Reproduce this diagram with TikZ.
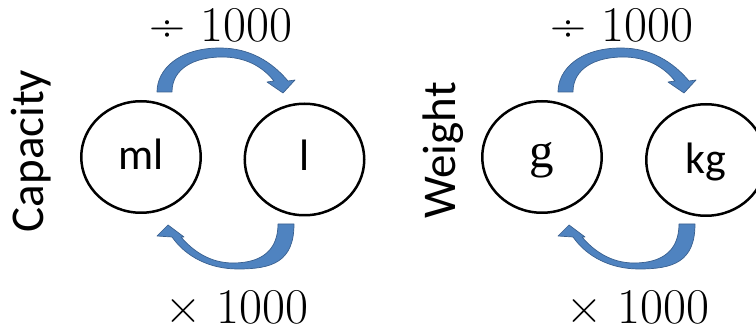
\documentclass[tikz,border=0pt]{standalone}
\usepackage[no-math]{fontspec}
\setmainfont{Carlito}
\newfontfamily\opfont{Latin Modern Roman}
\newfontfamily\gfont{Liberation Serif}
\usetikzlibrary{shapes.geometric}
\definecolor{arrowfill}{RGB}{79,131,192}
\definecolor{arrowedge}{RGB}{58,96,143}
\begin{document}
\begin{tikzpicture}[x=1pt,y=-1pt,
  unit/.style={draw, ellipse, line width=2.5pt, minimum width=119.5pt, minimum height=111.5pt, inner sep=0pt, text depth=0pt},
  blockarrow/.style={fill=arrowfill, draw=arrowedge, line width=0.7pt, line join=round},
  qty/.style={rotate=90, anchor=base, inner sep=0pt, font=\fontsize{47}{56}\selectfont},
  op/.style={anchor=base, inner sep=0pt, text depth=0pt, font=\opfont\fontsize{50}{60}\selectfont},
  toparrow/.pic={
    \path[blockarrow] (157,92) .. controls (157,70) and (178,48) .. (220,48)
      .. controls (250,48) and (272,62) .. (288,81) -- (295,80) -- (283,93) -- (267,82) -- (274,81)
      .. controls (262,66) and (245,57) .. (222,57)
      .. controls (195,57) and (172,68) .. (172,92) -- cycle;
  },
  bottomarrow/.pic={
    \path[blockarrow] (278,224) -- (294,224) .. controls (294,262) and (272,269) .. (238,269)
      .. controls (210,269) and (186,257) .. (172,237) -- (157,236) -- (168,225) -- (184,237) -- (181,237)
      .. controls (193,251) and (210,263) .. (233,263)
      .. controls (262,263) and (278,250) .. (278,224) -- cycle;
  }]
\clip (0,0) rectangle (756,331);
% Capacity
\node[qty] (cap) at (43,151) {Capacity};
\node[unit, text height=26pt, font=\fontsize{44}{52}\selectfont] (ml) at (141,157) {ml};
\node[unit, text height=23pt, font=\fontsize{44}{52}\selectfont] (l) at (304.5,159.5) {l};
\pic at (0,0) {toparrow};
\pic at (0,0) {bottomarrow};
\node[op] (div1) at (221,42) {÷ 1000};
\node[op] (mul1) at (237,324) {× 1000};
% Weight
\node[qty] (wt) at (455,150.5) {Weight};
\node[unit, text height=21pt, font=\gfont\fontsize{49}{58}\selectfont] (g) at (542,157) {g};
\node[unit, text height=26.6pt, font=\fontsize{44}{52}\selectfont] (kg) at (706,160) {kg};
\pic at (401,0) {toparrow};
\pic at (401,0) {bottomarrow};
\node[op] (div2) at (622,42) {÷ 1000};
\node[op] (mul2) at (638,324) {× 1000};
\end{tikzpicture}
\end{document}
